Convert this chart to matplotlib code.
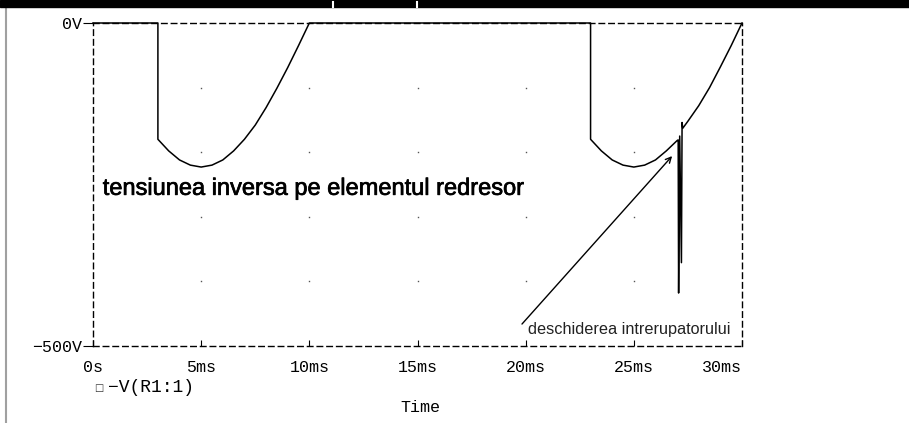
import matplotlib.pyplot as plt
import matplotlib.patheffects as pe
from matplotlib.lines import Line2D
from matplotlib.patches import Rectangle

# -V(R1:1) in volts against time in ms
time_ms = [0.0, 3.0, 3.0, 3.5, 4.0, 4.5, 5.0, 5.5, 6.0, 6.5, 7.0, 7.5, 8.0, 8.5,
           9.0, 9.5, 10.0, 23.0, 23.0, 23.5, 24.0, 24.5, 25.0, 25.5, 26.0, 26.5,
           27.0, 27.05, 27.07, 27.12, 27.20, 27.23, 27.26, 27.5, 28.0, 28.5,
           29.0, 29.5, 30.0]
volts = [0, 0, -180, -198, -212, -220, -223, -220, -212, -198, -180, -158, -131,
         -101, -69, -35, 0, 0, -180, -198, -212, -220, -223, -220, -212, -198,
         -182, -181, -418, -175, -371, -154, -163, -152, -128, -100, -68, -35, 0]

x_ticks = [0, 5, 10, 15, 20, 25, 30]
x_labels = ['0s', '5ms', '10ms', '15ms', '20ms', '25ms', '30ms']
y_ticks = [-500, 0]
y_labels = ['\u2212500V', '0V']
grid_x = [5, 10, 15, 20, 25]
grid_y = [-100, -200, -300, -400]

mono = 'Liberation Mono'

fig = plt.figure(figsize=(9.09, 4.23), dpi=100)
ax = fig.add_axes([93 / 909, 1 - 346 / 423, 649 / 909, 323 / 423])

ax.plot(time_ms, volts, color='black', lw=1.1, clip_on=False, zorder=3)

# dotted grid: one dot at each crossing
for gx in grid_x:
    ax.plot([gx] * len(grid_y), grid_y, ls='none', marker='s', ms=1.0,
            color='#555555', mew=0)

ax.set_xlim(0, 30)
ax.set_ylim(-500, 0)
ax.set_xticks(x_ticks, x_labels, fontfamily=mono, fontsize=12)
ax.set_yticks(y_ticks, y_labels, fontfamily=mono, fontsize=12)
ax.tick_params(axis='x', direction='in', length=4, pad=10, color='black')
ax.tick_params(axis='y', direction='out', length=7, pad=1, color='black')
# last time label sits flush with the end of the axis
ax.get_xticklabels()[-1].set_horizontalalignment('right')

for sp in ax.spines.values():
    sp.set_linestyle((0, (4, 3)))
    sp.set_linewidth(1.0)

ax.text(0.45, -266, 'tensiunea inversa pe elementul redresor',
        fontfamily='Liberation Sans', fontsize=17, va='baseline', ha='left',
        path_effects=[pe.withStroke(linewidth=0.5, foreground='black')])
ax.annotate('', xy=(26.77, -206), xytext=(19.83, -466),
            arrowprops=dict(arrowstyle='->', lw=1.0, color='black',
                            shrinkA=0, shrinkB=0))
ax.text(20.1, -474, 'deschiderea intrerupatorului', fontfamily='Liberation Sans',
        fontsize=11.7, va='center', ha='left', color='#222222')

# legend entry and axis title under the plot
fig.text(99 / 909, 1 - 388 / 423, '\u25a1', fontsize=7, va='center',
         ha='center', color='#333333')
fig.text(108 / 909, 1 - 387 / 423, '\u2212V(R1:1)', fontfamily=mono,
         fontsize=13, va='center', ha='left')
fig.text(420 / 909, 1 - 407 / 423, 'Time', fontfamily=mono, fontsize=12,
         va='center', ha='center')

# window title bar and left border
fig.patches.append(Rectangle((0, 1 - 7 / 423), 1, 7 / 423, transform=fig.transFigure,
                             color='black', zorder=5))
for wx in (333, 417):
    fig.lines.append(Line2D([wx / 909, wx / 909], [1 - 7 / 423, 1 - 2 / 423], lw=1.5,
                            color='white', transform=fig.transFigure, zorder=6))
fig.lines.append(Line2D([5.5 / 909, 5.5 / 909], [0, 1 - 7 / 423], lw=1.5,
                        color='#a0a0a0', transform=fig.transFigure))

fig.savefig('out.png', dpi=100)
